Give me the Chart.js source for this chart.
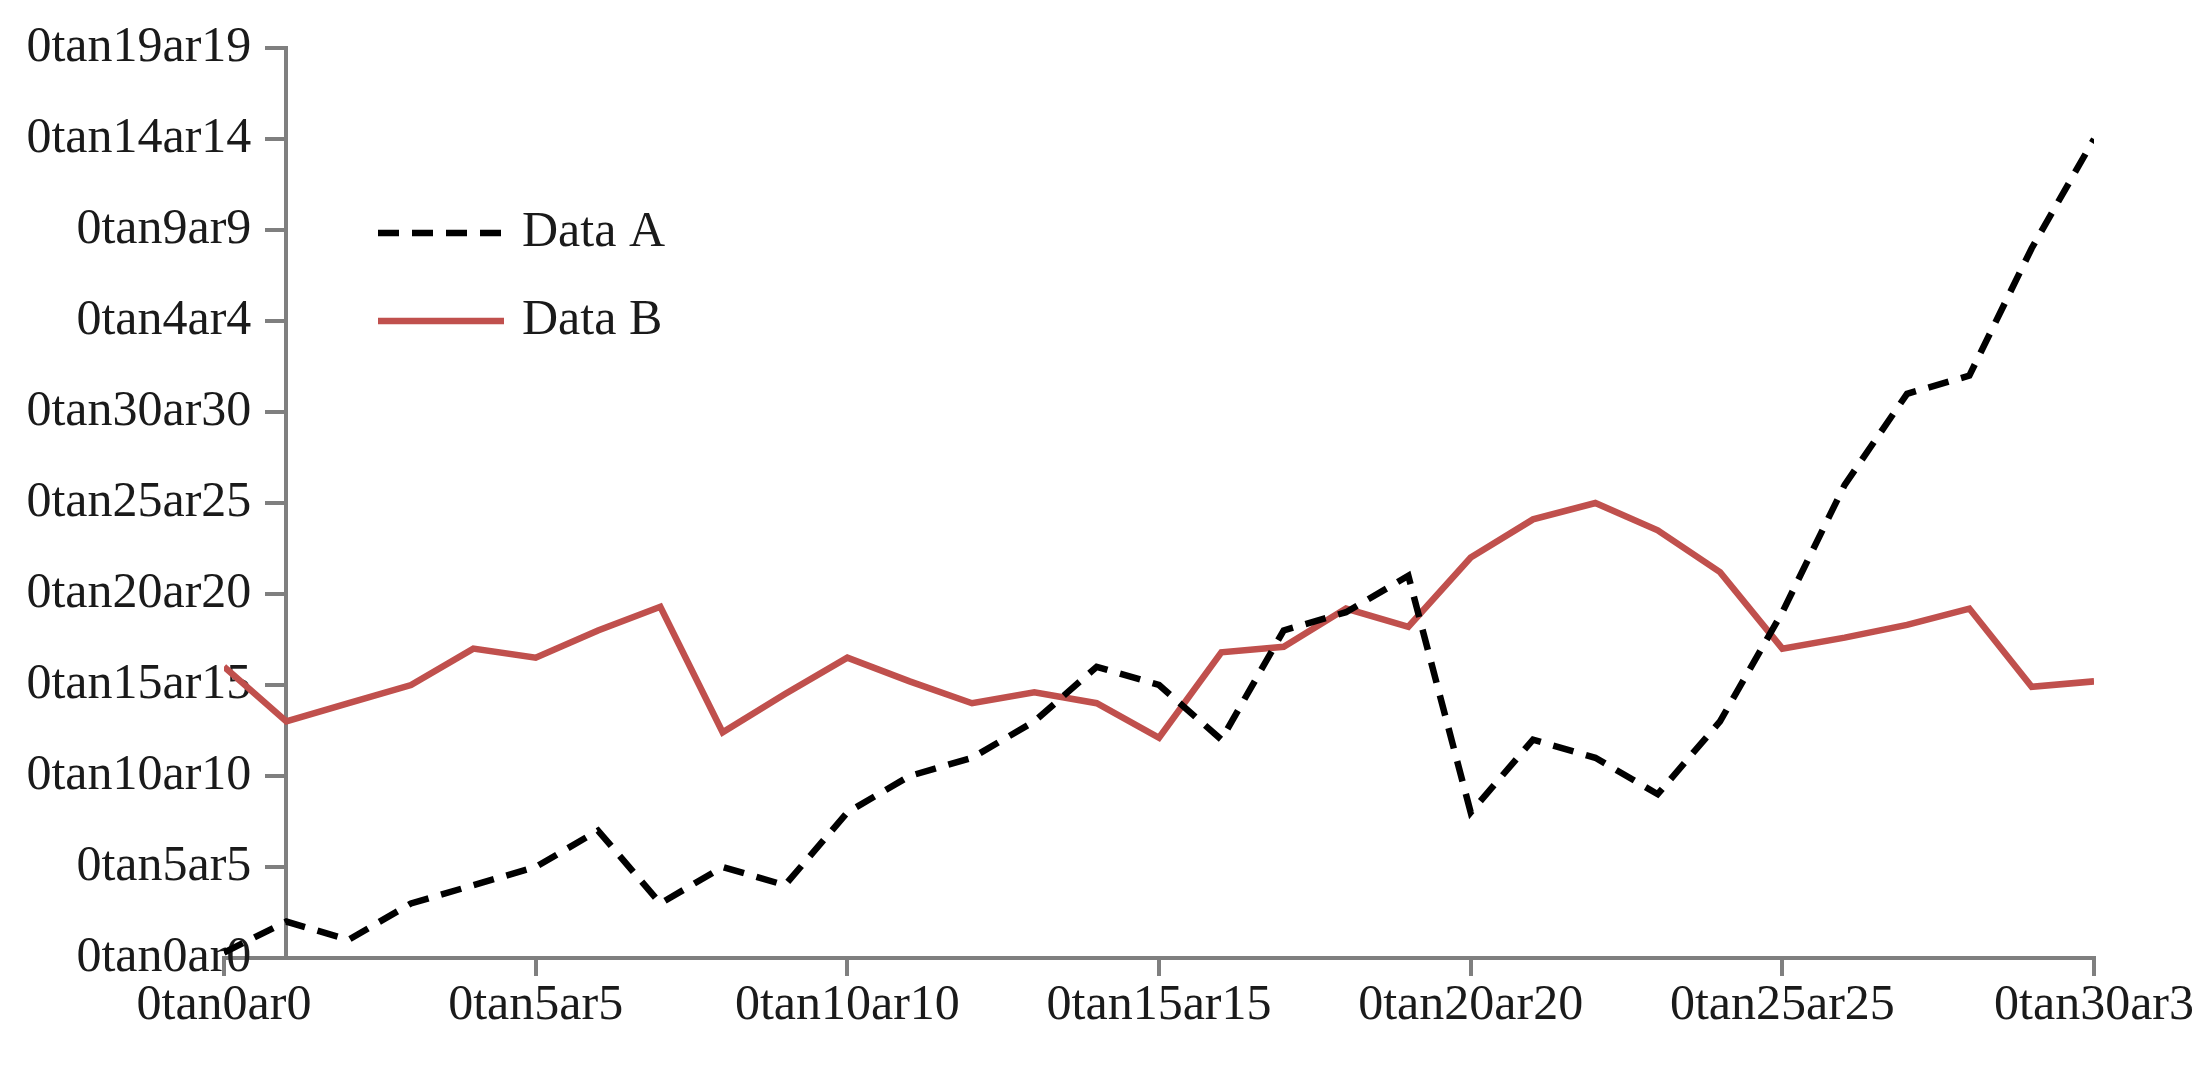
<!DOCTYPE html>
<html>
<head>
<meta charset="utf-8">
<script src="https://cdn.jsdelivr.net/npm/chart.js@4.4.1/dist/chart.umd.min.js"></script>
<style>
  html, body { margin: 0; padding: 0; background: #fff; }
  #wrap { width: 2194px; height: 1067px; position: relative; }
</style>
</head>
<body>
<div id="wrap"><canvas id="lineChart"></canvas></div>
<script>
// --- Data ---
const xValues = [0, 1, 2, 3, 4, 5, 6, 7, 8, 9, 10, 11, 12, 13, 14, 15, 16, 17, 18, 19, 20, 21, 22, 23, 24, 25, 26, 27, 28, 29, 30];
const dataA = [0.3, 2, 1, 3, 4, 5, 7, 3, 5, 4, 8, 10, 11, 13, 16, 15, 12, 18, 19, 21, 8, 12, 11, 9, 13, 19, 26, 31, 32, 39, 45];
const dataB = [16, 13, 14, 15, 17, 16.5, 18, 19.3, 12.4, 14.5, 16.5, 15.2, 14, 14.6, 14, 12.1, 16.8, 17.1, 19.2, 18.2, 22, 24.1, 25, 23.5, 21.2, 17, 17.6, 18.3, 19.2, 14.9, 15.2];
const seriesNames = ['Data A', 'Data B'];
const xTickLabels = ['0tan0ar0', '0tan5ar5', '0tan10ar10', '0tan15ar15', '0tan20ar20', '0tan25ar25', '0tan30ar3'];
const yTickLabels = ['0tan0ar0', '0tan5ar5', '0tan10ar10', '0tan15ar15', '0tan20ar20', '0tan25ar25', '0tan30ar30', '0tan4ar4', '0tan9ar9', '0tan14ar14', '0tan19ar19'];

const axisGrey = '#7f7f7f';
const textColor = '#1a1a1a';
const serif = '"Liberation Serif", "DejaVu Serif", serif';

// legend drawn inside the plot, top-left
const insideLegend = {
    id: 'insideLegend',
    afterDraw(chart) {
        const { ctx, chartArea } = chart;
        const x0 = chartArea.left + 154;
        const lineLen = 126;
        const rows = [chartArea.top + 185, chartArea.top + 273];
        ctx.save();
        chart.data.datasets.forEach((ds, i) => {
            const y = rows[i];
            ctx.beginPath();
            ctx.strokeStyle = ds.borderColor;
            ctx.lineWidth = ds.borderWidth;
            ctx.setLineDash(ds.borderDash || []);
            ctx.moveTo(x0, y);
            ctx.lineTo(x0 + lineLen, y);
            ctx.stroke();
            ctx.setLineDash([]);
            ctx.fillStyle = textColor;
            ctx.font = '50px ' + serif;
            ctx.textBaseline = 'middle';
            ctx.textAlign = 'left';
            ctx.fillText(ds.label, x0 + lineLen + 18, y);
        });
        ctx.restore();
    }
};

const ctx = document.getElementById('lineChart').getContext('2d');
new Chart(ctx, {
    type: 'line',
    data: {
        datasets: [{
            label: seriesNames[0],
            data: xValues.map((x, i) => ({ x: x, y: dataA[i] })),
            borderColor: '#000000',
            borderWidth: 6.5,
            borderDash: [21, 13],
            pointRadius: 0,
            tension: 0
        }, {
            label: seriesNames[1],
            data: xValues.map((x, i) => ({ x: x, y: dataB[i] })),
            borderColor: '#c0504d',
            borderWidth: 6.5,
            pointRadius: 0,
            tension: 0
        }]
    },
    options: {
        responsive: true,
        maintainAspectRatio: false,
        animation: false,
        layout: { padding: { left: 224, right: 96, top: 48, bottom: 31 } },
        plugins: {
            legend: { display: false },
            tooltip: { enabled: false }
        },
        scales: {
            x: {
                type: 'linear',
                position: 'bottom',
                min: 0,
                max: 30,
                border: { display: true, color: axisGrey, width: 4 },
                grid: { display: true, drawOnChartArea: false, drawTicks: true, tickLength: 18, color: axisGrey, lineWidth: 4 },
                ticks: {
                    stepSize: 5,
                    padding: 0,
                    color: textColor,
                    font: { family: serif, size: 50 },
                    maxRotation: 0,
                    callback: (v) => xTickLabels[Math.round(v / 5)]
                }
            },
            y: {
                type: 'linear',
                position: { x: 1 },   // y axis crosses at x = 1, like the original
                min: 0,
                max: 50,
                border: { display: true, color: axisGrey, width: 4 },
                grid: { display: true, drawOnChartArea: false, drawTicks: true, tickLength: 19, color: axisGrey, lineWidth: 4 },
                ticks: {
                    stepSize: 5,
                    color: textColor,
                    font: { family: serif, size: 50 },
                    // an axis placed by value ignores tick padding, so keep a gap with trailing spaces
                    callback: (v) => yTickLabels[Math.round(v / 5)] + '\u2002\u2009'
                }
            }
        }
    },
    plugins: [insideLegend]
});
</script>
</body>
</html>
